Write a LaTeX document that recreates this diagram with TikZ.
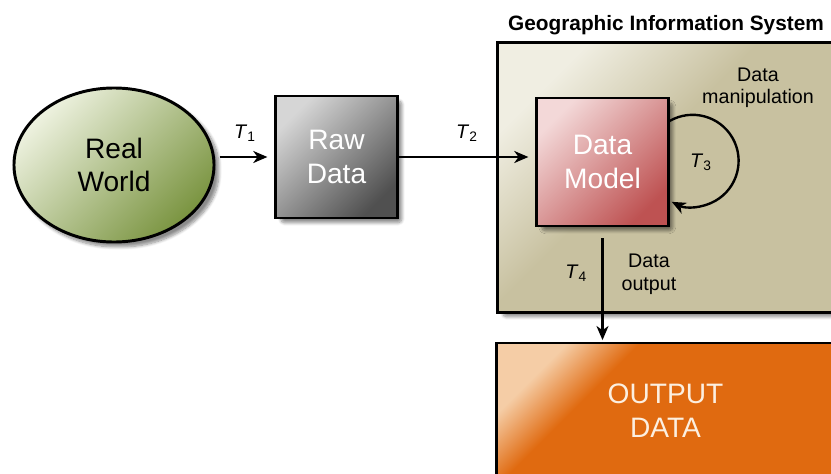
\documentclass[tikz,border=0pt]{standalone}
\usepackage{fontspec}
\setmainfont{Liberation Sans}
\usetikzlibrary{arrows.meta,shapes.geometric,shadows.blur,positioning}

\definecolor{worldlight}{HTML}{EEF2E0}
\definecolor{worlddark}{HTML}{7A9440}
\definecolor{rawlight}{HTML}{D6D6D6}
\definecolor{rawdark}{HTML}{505050}
\definecolor{modellight}{HTML}{F3D8D8}
\definecolor{modeldark}{HTML}{BE5252}
\definecolor{gislight}{HTML}{F0EEE2}
\definecolor{gisdark}{HTML}{C8C1A0}
\definecolor{outlight}{HTML}{F5CDA6}
\definecolor{outdark}{HTML}{E06A10}
\definecolor{outtext}{HTML}{FCEFE0}

\pgfdeclareverticalshading{gisshade}{100bp}{color(0bp)=(gisdark); color(55bp)=(gisdark);
  color(75bp)=(gislight); color(100bp)=(gislight)}
\pgfdeclareverticalshading{outshade}{100bp}{color(0bp)=(outdark); color(64bp)=(outdark);
  color(75bp)=(outlight); color(100bp)=(outlight)}

\tikzset{
  box/.style={draw=black, line width=2.1pt,
    blur shadow={shadow blur steps=8, shadow xshift=1.2mm, shadow yshift=-1.2mm,
      shadow blur extra rounding=1mm, shadow opacity=45}},
  bigtext/.style={align=center, font=\fontsize{20}{24}\selectfont},
  smalltext/.style={align=center, font=\fontsize{14}{16}\selectfont},
  flow/.style={-{Stealth[length=10pt, width=8.5pt, inset=3pt]}, line width=1.7pt},
}
\newcommand{\tname}[1]{\textit{T}\textsubscript{#1}}

\begin{document}
\begin{tikzpicture}[x=0.025cm,y=-0.025cm]
\clip (0,0) rectangle (831,474);

% GIS frame and output
\node[box, minimum width=8.4cm, minimum height=6.725cm,
  shading=gisshade, shading angle=45] (gis) at (666,177.5) {};
\node[above=1pt of gis, font=\bfseries\fontsize{14.8}{17}\selectfont] (title)
  {Geographic Information System};
\node[box, bigtext, text=outtext, minimum width=8.425cm, minimum height=3.375cm,
  shading=outshade, shading angle=45] (output) at (665.5,410.5) {OUTPUT\\DATA};

% main chain
\node[box, ellipse, bigtext, minimum width=5cm, minimum height=3.85cm,
  top color=worldlight, bottom color=worlddark, shading angle=45]
  (world) at (114,165) {Real\\World};
\node[box, bigtext, text=white, minimum width=3.03cm, minimum height=3.05cm,
  top color=rawlight, bottom color=rawdark, shading angle=45]
  (raw) at (336.5,157) {Raw\\Data};
\node[box, bigtext, text=white, minimum width=3.28cm, minimum height=3.2cm,
  top color=modellight, bottom color=modeldark, shading angle=45]
  (model) at (602.5,162) {Data\\Model};

\draw[flow, shorten <=3pt, shorten >=5pt] (raw.west -| world.east) -- (raw.west)
  node[midway, above=0.25cm, smalltext] {\tname{1}};
\draw[flow, shorten >=5pt] (raw.east) -- (raw.east -| model.west)
  node[midway, above=0.25cm, smalltext] {\tname{2}};

% manipulation loop
\draw[flow] ([yshift=1.025cm]model.east) arc[start angle=120, end angle=-117, radius=1.15cm];
\node[right=0.39cm of model.east, smalltext] (t3) {\tname{3}};
\node[smalltext] (manip) at (758,88) {Data\\manipulation};

% output
\draw[flow, shorten <=0.275cm, shorten >=1pt] (model.south) -- (model.south |- output.north)
  node[pos=0.4, left=0.24cm, smalltext] {\tname{4}}
  node[pos=0.41, right=0.33cm, smalltext] {Data\\output};
\end{tikzpicture}
\end{document}
